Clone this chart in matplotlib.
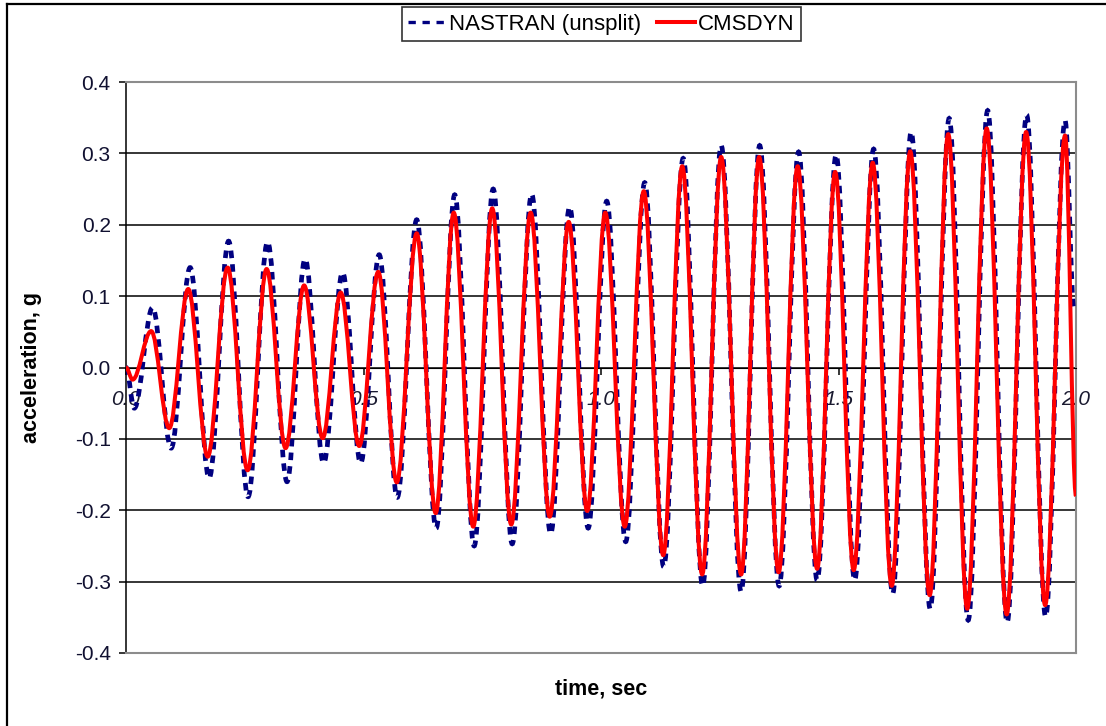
import matplotlib
matplotlib.use("Agg")
import matplotlib.pyplot as plt
from matplotlib.lines import Line2D
from matplotlib.path import Path
from matplotlib.patches import PathPatch

plt.rcParams['font.family'] = ['Liberation Sans', 'DejaVu Sans']
plt.rcParams['axes.unicode_minus'] = False

# extrema (time in s, acceleration in g)
cms_t = [0.0, 0.014, 0.053, 0.091, 0.131, 0.172, 0.214, 0.256, 0.296, 0.336,
         0.375, 0.414, 0.452, 0.491, 0.531, 0.570, 0.612, 0.652, 0.690, 0.731,
         0.771, 0.811, 0.852, 0.892, 0.932, 0.971, 1.009, 1.050, 1.090, 1.131,
         1.171, 1.213, 1.253, 1.295, 1.333, 1.374, 1.414, 1.455, 1.493, 1.532,
         1.572, 1.612, 1.651, 1.692, 1.731, 1.771, 1.812, 1.854, 1.895, 1.935,
         1.977, 2.0]
cms_g = [0.0, -0.017, 0.051, -0.085, 0.110, -0.125, 0.140, -0.144, 0.138, -0.113,
         0.115, -0.099, 0.105, -0.110, 0.134, -0.161, 0.188, -0.204, 0.217, -0.223,
         0.223, -0.220, 0.217, -0.209, 0.204, -0.201, 0.217, -0.223, 0.247, -0.263,
         0.282, -0.290, 0.295, -0.290, 0.295, -0.287, 0.282, -0.282, 0.274, -0.284,
         0.287, -0.306, 0.303, -0.319, 0.327, -0.338, 0.335, -0.346, 0.330, -0.333,
         0.325, -0.18]

nas_t = [0.0, 0.0175, 0.056, 0.095, 0.135, 0.175, 0.216, 0.257, 0.298, 0.339,
         0.377, 0.416, 0.456, 0.494, 0.533, 0.571, 0.612, 0.653, 0.692, 0.733,
         0.773, 0.813, 0.854, 0.894, 0.934, 0.973, 1.012, 1.052, 1.092, 1.132,
         1.173, 1.214, 1.253, 1.295, 1.334, 1.375, 1.416, 1.455, 1.495, 1.534,
         1.574, 1.614, 1.653, 1.693, 1.733, 1.773, 1.814, 1.855, 1.896, 1.936,
         1.977, 1.996]
nas_g = [0.0, -0.057, 0.084, -0.113, 0.140, -0.155, 0.177, -0.181, 0.176, -0.160,
         0.152, -0.134, 0.133, -0.134, 0.158, -0.182, 0.207, -0.225, 0.242, -0.250,
         0.250, -0.247, 0.243, -0.233, 0.225, -0.225, 0.233, -0.244, 0.259, -0.279,
         0.293, -0.306, 0.311, -0.314, 0.311, -0.306, 0.302, -0.298, 0.298, -0.298,
         0.306, -0.317, 0.330, -0.338, 0.349, -0.354, 0.360, -0.357, 0.354, -0.349,
         0.346, 0.08]

x_ticks = [0.0, 0.5, 1.0, 1.5, 2.0]
y_ticks = [-0.4, -0.3, -0.2, -0.1, 0.0, 0.1, 0.2, 0.3, 0.4]


def smooth_path(ts, vs, k=0.36):
    # smoothed line (like Excel's "smoothed line") through the read points:
    # cubic Bezier segments with flat tangents at each extremum
    verts = [(ts[0], vs[0])]
    codes = [Path.MOVETO]
    for i in range(1, len(ts)):
        dt = ts[i] - ts[i - 1]
        verts += [(ts[i - 1] + k * dt, vs[i - 1]), (ts[i] - k * dt, vs[i]), (ts[i], vs[i])]
        codes += [Path.CURVE4] * 3
    return Path(verts, codes)


W, H = 1106, 726
fig = plt.figure(figsize=(W / 100, H / 100), dpi=100)
ax = fig.add_axes([126 / W, 1 - 653 / H, 950 / W, 571 / H])

# x axis sits on the zero line (set before tick labels, it resets them)
ax.spines['bottom'].set_position(('data', 0))

nas_style = dict(color='#000080', lw=3.4, ls=(0, (1.6, 1.3)))
cms_style = dict(color='#ff0000', lw=2.9, ls='-')
ax.add_patch(PathPatch(smooth_path(nas_t, nas_g), fill=False, zorder=3,
                       edgecolor=nas_style['color'], lw=nas_style['lw'],
                       linestyle=nas_style['ls'], capstyle='butt'))
ax.add_patch(PathPatch(smooth_path(cms_t, cms_g), fill=False, zorder=4,
                       edgecolor=cms_style['color'], lw=cms_style['lw'],
                       linestyle=cms_style['ls'], joinstyle='round'))

ax.set_xlim(0, 2.0)
ax.set_ylim(-0.4, 0.4)
ax.set_yticks(y_ticks)
ax.set_yticklabels(['%.1f' % v for v in y_ticks], fontsize=15, color='#101030')
ax.set_xticks(x_ticks)
ax.set_xticklabels(['%.1f' % v for v in x_ticks], fontsize=15, style='italic',
                   color='#1a1a30')
for y in y_ticks:
    ax.axhline(y, color='black', lw=1.1, zorder=1)

ax.spines['bottom'].set_color('black')
ax.spines['left'].set_color('black')
ax.spines['left'].set_linewidth(1.1)
for s in ['top', 'right']:
    ax.spines[s].set_color('#8c8c8c')
    ax.spines[s].set_linewidth(1.5)
ax.axhline(-0.4, color='#8c8c8c', lw=1.5, clip_on=False, zorder=5)
ax.tick_params(axis='y', direction='out', length=5, width=1.1, pad=6)
ax.tick_params(axis='x', direction='out', length=5, width=1.1, pad=11)

ax.set_ylabel('acceleration, g', fontsize=15.5, fontweight='bold')
ax.yaxis.set_label_coords(-0.0884, 0.5)
ax.set_xlabel('time, sec', fontsize=15.5, fontweight='bold')
ax.xaxis.set_label_coords(0.5, -0.045)

handles = [Line2D([], [], color=nas_style['color'], lw=2.4, ls=(0, (2.2, 2.0))),
           Line2D([], [], color=cms_style['color'], lw=cms_style['lw'])]
leg = fig.legend(handles, ['NASTRAN (unsplit)', 'CMSDYN'], loc='upper center',
                 bbox_to_anchor=(601.5 / W, 1 - 7 / H),
                 ncol=2, fontsize=16, frameon=True, fancybox=False,
                 edgecolor='black', borderpad=0.3, handlelength=1.7,
                 handletextpad=0.15, columnspacing=0.7, borderaxespad=0)
leg.get_frame().set_linewidth(1.2)

# outer frame of the chart (left and top edges visible)
fig.add_artist(Line2D([6.5 / W, 6.5 / W], [0, 1 - 3.5 / H], color='black',
                      lw=1.6, transform=fig.transFigure))
fig.add_artist(Line2D([6.5 / W, 1], [1 - 3.5 / H, 1 - 3.5 / H], color='black',
                      lw=1.6, transform=fig.transFigure))

fig.savefig('out.png', dpi=100)
